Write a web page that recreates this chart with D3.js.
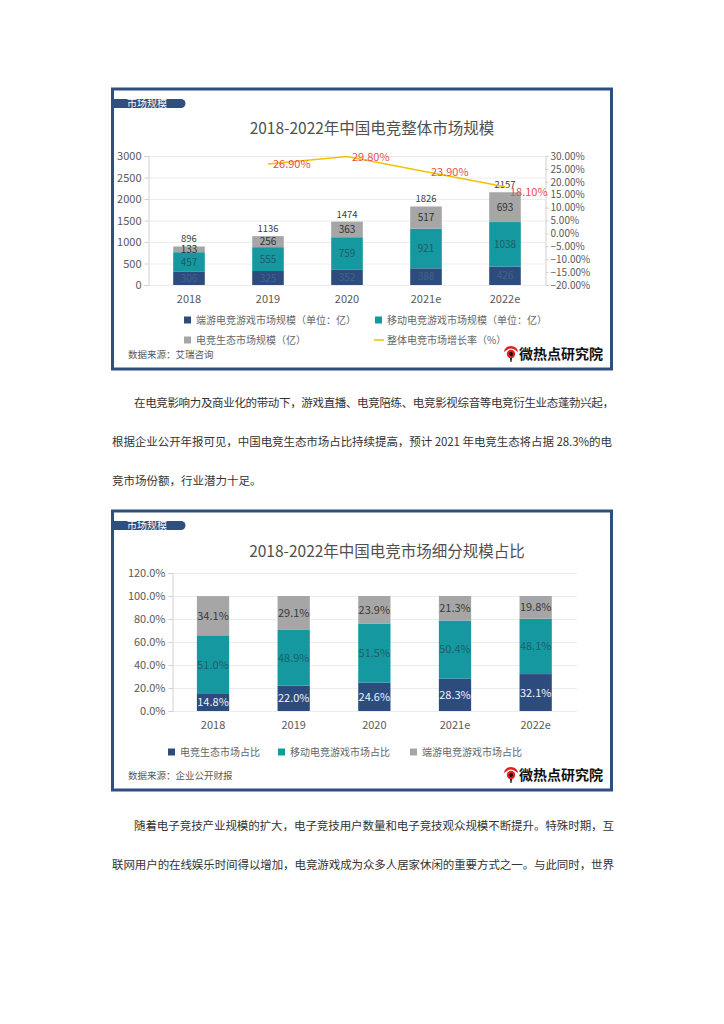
<!DOCTYPE html>
<html>
<head>
<meta charset="utf-8">
<script src="https://cdn.jsdelivr.net/npm/d3@7"></script>
<style>
body { margin: 0; background: #fff; }
svg { display: block; font-family: "Noto Sans CJK SC", "Noto Sans", sans-serif; }
.axis text { fill: #595959; font-size: 11px; font-family: "Noto Sans CJK SC", "Noto Sans", sans-serif; }
</style>
</head>
<body>
<div id="page"></div>
<script>
// chart 1: market size (亿)
var years = ["2018", "2019", "2020", "2021e", "2022e"];
var pcGame = [306, 325, 352, 388, 426];      // 端游电竞游戏市场规模
var mobileGame = [457, 555, 759, 921, 1038]; // 移动电竞游戏市场规模
var ecoSize = [133, 256, 363, 517, 693];     // 电竞生态市场规模
var growth = [null, 0.269, 0.298, 0.239, 0.181];
var leftTicks = [0, 500, 1000, 1500, 2000, 2500, 3000];
var rightTicks = [-0.2, -0.15, -0.1, -0.05, 0, 0.05, 0.1, 0.15, 0.2, 0.25, 0.3];

// chart 2: share (%)
var ecoShare = [14.8, 22.0, 24.6, 28.3, 32.1];
var mobileShare = [51.0, 48.9, 51.5, 50.4, 48.1];
var pcShare = [34.1, 29.1, 23.9, 21.3, 19.8];
var shareTicks = [0, 20, 40, 60, 80, 100, 120];

var C_BLUE = "#2c4c7e", C_TEAL = "#15989f", C_GREY = "#a6a6a6", C_FRAME = "#2f4f7f";

var svg = d3.select("#page").append("svg")
	.attr("width", 724)
	.attr("height", 1024);

function frame(top, bottom) {
	svg.append("rect")
		.attr("x", 112.5).attr("y", top)
		.attr("width", 499).attr("height", bottom - top)
		.attr("fill", "#fff").attr("stroke", C_FRAME).attr("stroke-width", 3);
	// tab
	var ty = top + 10;
	svg.append("path")
		.attr("d", "M111," + ty + " H181 a4.5,4.5 0 0 1 0,9 H111 Z")
		.attr("fill", C_FRAME);
	svg.append("text")
		.attr("x", 127).attr("y", ty + 8)
		.attr("fill", "#fff").attr("font-size", 10)
		.text("市场规模");
}

function logo(y, source) {
	svg.append("text")
		.attr("x", 128).attr("y", y + 3)
		.attr("fill", "#595959").attr("font-size", 9.5)
		.text(source);
	var g = svg.append("g").attr("transform", "translate(511," + (y - 2) + ")");
	g.append("path").attr("d", "M-7,-1 A7,6 0 0 1 7,-1 L4,-3 A5,4 0 0 0 -4,-3 Z").attr("fill", "#e02020");
	g.append("circle").attr("r", 4.2).attr("cy", 1).attr("fill", "#e02020");
	g.append("circle").attr("r", 2).attr("cy", 1).attr("fill", "#111");
	g.append("path").attr("d", "M-1,5 L1,5 L0.5,9 L-0.5,9 Z").attr("fill", "#111");
	svg.append("text")
		.attr("x", 519).attr("y", y + 3.5)
		.attr("fill", "#111").attr("font-size", 14).attr("font-weight", "bold")
		.text("微热点研究院");
}

function legendItem(x, y, color, label, isLine) {
	if (isLine) {
		svg.append("line").attr("x1", x - 1).attr("x2", x + 9).attr("y1", y).attr("y2", y)
			.attr("stroke", "#f2c200").attr("stroke-width", 1.5);
	} else {
		svg.append("rect").attr("x", x).attr("y", y - 3.5).attr("width", 7).attr("height", 7).attr("fill", color);
	}
	svg.append("text").attr("x", x + 12).attr("y", y + 3.5)
		.attr("fill", "#666").attr("font-size", 10)
		.text(label);
}

/* ---------- chart 1 ---------- */
frame(89, 369);
svg.append("text")
	.attr("x", 372).attr("y", 134)
	.attr("text-anchor", "middle").attr("fill", "#505050").attr("font-size", 15.5)
	.text("2018-2022年中国电竞整体市场规模");

var x1 = d3.scaleBand().domain(years).range([149.5, 544.5]).paddingInner(0.6).paddingOuter(0.3);
var y1 = d3.scaleLinear().domain([0, 3000]).range([285, 156]);
var y2 = d3.scaleLinear().domain([-0.2, 0.3]).range([285, 156]);

svg.append("g").selectAll("line").data(leftTicks).enter().append("line")
	.attr("x1", 149).attr("x2", 545)
	.attr("y1", function(d) { return y1(d) + 0.5; }).attr("y2", function(d) { return y1(d) + 0.5; })
	.attr("stroke", "#ececec");

var ax1 = svg.append("g").attr("class", "axis").attr("transform", "translate(148.5,0)")
	.call(d3.axisLeft(y1).tickValues(leftTicks).tickSize(4).tickPadding(3).tickFormat(d3.format("d")));
var ax2 = svg.append("g").attr("class", "axis").attr("transform", "translate(545.5,0)")
	.call(d3.axisRight(y2).tickValues(rightTicks).tickSize(3).tickPadding(2).tickFormat(d3.format(".2%")));
[ax1, ax2].forEach(function(a) {
	a.selectAll("path, line").attr("stroke", "#d0d0d0");
});
ax2.selectAll("text").style("font-size", "10px");

var bx1 = svg.append("g").attr("class", "axis").attr("transform", "translate(0,285)")
	.call(d3.axisBottom(x1).tickSize(0).tickPadding(10));
bx1.select(".domain").remove();

var rows1 = years.map(function(y, i) {
	return {year: y, pc: pcGame[i], mobile: mobileGame[i], eco: ecoSize[i]};
});
var keys1 = ["pc", "mobile", "eco"];
var colors1 = {pc: C_BLUE, mobile: C_TEAL, eco: C_GREY};
var labelColors1 = {pc: "#465f88", mobile: "#1f5c62", eco: "#333"};
var stack1 = d3.stack().keys(keys1)(rows1);

var layer1 = svg.append("g").selectAll("g").data(stack1).enter().append("g")
	.attr("fill", function(d) { return colors1[d.key]; });
layer1.selectAll("rect").data(function(d) { return d; }).enter().append("rect")
	.attr("x", function(d) { return x1(d.data.year); })
	.attr("width", x1.bandwidth())
	.attr("y", function(d) { return y1(d[1]); })
	.attr("height", function(d) { return y1(d[0]) - y1(d[1]); });

stack1.forEach(function(s) {
	svg.append("g").selectAll("text").data(s).enter().append("text")
		.attr("x", function(d) { return x1(d.data.year) + x1.bandwidth() / 2; })
		.attr("y", function(d) { return (y1(d[0]) + y1(d[1])) / 2 + 3.5; })
		.attr("text-anchor", "middle").attr("font-size", 10)
		.attr("fill", labelColors1[s.key])
		.text(function(d) { return d.data[s.key]; });
});

// totals
svg.append("g").selectAll("text").data(rows1).enter().append("text")
	.attr("x", function(d) { return x1(d.year) + x1.bandwidth() / 2; })
	.attr("y", function(d) { return y1(d.pc + d.mobile + d.eco) - 4; })
	.attr("text-anchor", "middle").attr("font-size", 9.5).attr("fill", "#404040")
	.text(function(d) { return d.pc + d.mobile + d.eco; });

// growth line
var gData = years.map(function(y, i) { return {year: y, v: growth[i]}; })
	.filter(function(d) { return d.v !== null; });
var line = d3.line()
	.x(function(d) { return x1(d.year) + x1.bandwidth() / 2; })
	.y(function(d) { return y2(d.v); });
svg.append("path").datum(gData)
	.attr("d", line).attr("fill", "none")
	.attr("stroke", "#f2c200").attr("stroke-width", 1.5);
svg.append("g").selectAll("text").data(gData).enter().append("text")
	.attr("x", function(d) { return x1(d.year) + x1.bandwidth() / 2 + 5; })
	.attr("y", function(d, i) { return y2(d.v) + (i == gData.length - 1 ? 9 : 4); })
	.attr("font-size", 11).attr("fill", "#e8504e")
	.text(function(d) { return d3.format(".2%")(d.v); });

legendItem(184, 320, C_BLUE, "端游电竞游戏市场规模（单位：亿）");
legendItem(375, 320, C_TEAL, "移动电竞游戏市场规模（单位：亿）");
legendItem(184, 340, C_GREY, "电竞生态市场规模（亿）");
legendItem(375, 340, null, "整体电竞市场增长率（%）", true);
logo(355, "数据来源：艾瑞咨询");

/* ---------- paragraph 1 ---------- */
function para(x, y, str, width) {
	var t = svg.append("text").attr("x", x).attr("y", y + 4)
		.attr("fill", "#333").attr("font-size", 11.5)
		.text(str);
	if (width) t.attr("textLength", width).attr("lengthAdjust", "spacing");
}
para(134, 403, "在电竞影响力及商业化的带动下，游戏直播、电竞陪练、电竞影视综音等电竞衍生业态蓬勃兴起，", 480);
para(112, 442, "根据企业公开年报可见，中国电竞生态市场占比持续提高，预计 2021 年电竞生态将占据 28.3%的电", 500);
para(112, 481, "竞市场份额，行业潜力十足。");

/* ---------- chart 2 ---------- */
frame(511, 790);
svg.append("text")
	.attr("x", 387).attr("y", 557)
	.attr("text-anchor", "middle").attr("fill", "#505050").attr("font-size", 15.5)
	.text("2018-2022年中国电竞市场细分规模占比");

var x2 = d3.scaleBand().domain(years).range([172.7, 576]).paddingInner(0.6).paddingOuter(0.3);
var ys = d3.scaleLinear().domain([0, 120]).range([711, 573]);

svg.append("g").selectAll("line").data(shareTicks).enter().append("line")
	.attr("x1", 173).attr("x2", 577)
	.attr("y1", function(d) { return ys(d) + 0.5; }).attr("y2", function(d) { return ys(d) + 0.5; })
	.attr("stroke", "#ececec");

var ax3 = svg.append("g").attr("class", "axis").attr("transform", "translate(172.5,0)")
	.call(d3.axisLeft(ys).tickValues(shareTicks).tickSize(4).tickPadding(3)
		.tickFormat(function(d) { return d.toFixed(1) + "%"; }));
ax3.selectAll("path, line").attr("stroke", "#d0d0d0");

var bx2 = svg.append("g").attr("class", "axis").attr("transform", "translate(0,711)")
	.call(d3.axisBottom(x2).tickSize(0).tickPadding(10));
bx2.select(".domain").remove();

var rows2 = years.map(function(y, i) {
	return {year: y, eco: ecoShare[i], mobile: mobileShare[i], pc: pcShare[i]};
});
var keys2 = ["eco", "mobile", "pc"];
var colors2 = {eco: C_BLUE, mobile: C_TEAL, pc: C_GREY};
var labelColors2 = {eco: "#eef2f7", mobile: "#1f6168", pc: "#3a3a3a"};
var stack2 = d3.stack().keys(keys2)(rows2);

var layer2 = svg.append("g").selectAll("g").data(stack2).enter().append("g")
	.attr("fill", function(d) { return colors2[d.key]; });
layer2.selectAll("rect").data(function(d) { return d; }).enter().append("rect")
	.attr("x", function(d) { return x2(d.data.year); })
	.attr("width", x2.bandwidth())
	.attr("y", function(d) { return ys(Math.min(d[1], 100)); })
	.attr("height", function(d) { return ys(d[0]) - ys(Math.min(d[1], 100)); });

stack2.forEach(function(s) {
	svg.append("g").selectAll("text").data(s).enter().append("text")
		.attr("x", function(d) { return x2(d.data.year) + x2.bandwidth() / 2; })
		.attr("y", function(d) { return (ys(d[0]) + ys(d[1])) / 2 + 4; })
		.attr("text-anchor", "middle").attr("font-size", 11)
		.attr("fill", labelColors2[s.key])
		.text(function(d) { return d.data[s.key].toFixed(1) + "%"; });
});

legendItem(168, 752, C_BLUE, "电竞生态市场占比");
legendItem(278, 752, C_TEAL, "移动电竞游戏市场占比");
legendItem(410, 752, C_GREY, "端游电竞游戏市场占比");
logo(776, "数据来源：企业公开财报");

/* ---------- paragraph 2 ---------- */
para(134, 826, "随着电子竞技产业规模的扩大，电子竞技用户数量和电子竞技观众规模不断提升。特殊时期，互", 480);
para(112, 865, "联网用户的在线娱乐时间得以增加，电竞游戏成为众多人居家休闲的重要方式之一。与此同时，世界", 502);
</script>
</body>
</html>
